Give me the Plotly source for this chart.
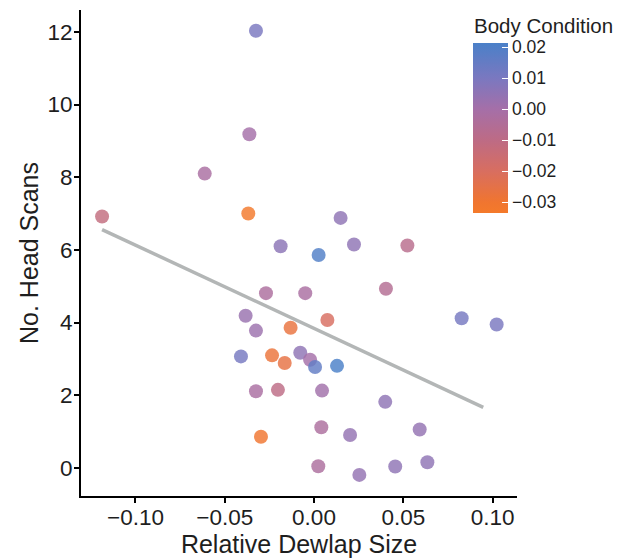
import plotly.graph_objects as go

dewlap = [-0.0325, -0.0362, -0.0612, -0.1187, -0.0368, 0.0149, -0.0187, 0.0224, 0.0523, 0.0026,
          -0.0269, -0.0049, 0.0403, 0.0827, 0.1023, -0.0383, -0.0325, -0.0131, 0.0075, -0.0409,
          -0.0235, -0.0164, -0.0077, -0.0022, 0.0006, 0.0129, -0.0325, -0.0202, 0.0045, 0.0399,
          -0.0297, 0.0041, 0.0202, 0.0592, 0.0024, 0.0254, 0.0455, 0.0635]
scans = [12.03, 9.18, 8.1, 6.92, 7.0, 6.88, 6.1, 6.15, 6.12, 5.86,
         4.81, 4.81, 4.93, 4.12, 3.95, 4.19, 3.78, 3.86, 4.07, 3.07,
         3.10, 2.89, 3.17, 2.98, 2.78, 2.81, 2.11, 2.15, 2.13, 1.82,
         0.86, 1.12, 0.91, 1.06, 0.05, -0.19, 0.04, 0.16]
body_cond = [0.010, 0.000, -0.002, -0.012, -0.033, 0.005, 0.006, 0.005, -0.008, 0.020,
             -0.003, -0.002, -0.006, 0.011, 0.010, 0.003, 0.002, -0.027, -0.020, 0.011,
             -0.028, -0.026, 0.005, 0.000, 0.016, 0.021, -0.002, -0.010, 0.001, 0.005,
             -0.030, -0.003, 0.004, 0.004, -0.003, 0.004, 0.005, 0.005]

trend_x = [-0.1187, 0.0948]
trend_y = [6.56, 1.67]

x_ticks = [-0.10, -0.05, 0.00, 0.05, 0.10]
y_ticks = [0, 2, 4, 6, 8, 10, 12]
cb_ticks = [-0.03, -0.02, -0.01, 0.00, 0.01, 0.02]

cmin, cmax = -0.0335, 0.0213
colorscale = [
    [0.0, "#f47a2a"],
    [0.064, "#f07530"],
    [0.246, "#d86e60"],
    [0.429, "#bd6b85"],
    [0.611, "#a56fa8"],
    [0.794, "#7a78c0"],
    [1.0, "#4a80c8"],
]

font = "Liberation Sans, Arial, sans-serif"
txt = "#1e1e1e"

# page body adds an 8px offset, so figure coords = screen coords - 8
OFF = 8
W, H = 630, 558
L, R, T, B = 81 - OFF, 517 - OFF, 10 - OFF, 496 - OFF
pw, ph = R - L, B - T
cb_left, cb_top, title_y = 473 - OFF, 43 - OFF, 25 - OFF

fig = go.Figure()
fig.add_trace(go.Scatter(
    x=trend_x, y=trend_y, mode="lines",
    line=dict(color="#b3b6b6", width=3.5),
    showlegend=False, hoverinfo="skip"))
fig.add_trace(go.Scatter(
    x=dewlap, y=scans, mode="markers",
    marker=dict(size=14, color=body_cond, colorscale=colorscale, cmin=cmin, cmax=cmax,
                opacity=0.82, line=dict(width=0),
                colorbar=dict(
                    x=(cb_left - L) / pw, xanchor="left",
                    y=(B - cb_top) / ph, yanchor="top",
                    lenmode="pixels", len=170, thickness=35,
                    tickvals=cb_ticks, tickformat=".2f",
                    ticks="inside", ticklen=6, tickcolor="white", tickwidth=1,
                    tickfont=dict(family=font, size=17.5, color=txt),
                    outlinewidth=0, xpad=0, ypad=0)),
    showlegend=False))

fig.add_annotation(
    text="Body Condition", xref="paper", yref="paper",
    x=(cb_left - L) / pw, y=(B - title_y) / ph, xanchor="left", yanchor="middle",
    showarrow=False, borderpad=0, font=dict(family=font, size=20.5, color=txt))

fig.update_layout(
    width=W, height=H,
    margin=dict(l=L, r=W - R, t=T, b=H - B, autoexpand=False),
    plot_bgcolor="white", paper_bgcolor="white",
    font=dict(family=font, color=txt),
    xaxis=dict(range=[-0.1305, 0.1137], tickvals=x_ticks, tickformat=".2f",
               showgrid=False, zeroline=False, showline=True, linecolor="black", linewidth=2,
               ticks="outside", ticklen=5, tickcolor="black", tickwidth=1.5,
               ticklabelstandoff=-5,
               tickfont=dict(size=22.5, color=txt),
               title=dict(text="Relative Dewlap Size", font=dict(size=25, color=txt), standoff=3)),
    yaxis=dict(range=[-0.77, 12.6], tickvals=y_ticks,
               showgrid=False, zeroline=False, showline=True, linecolor="black", linewidth=2,
               ticks="outside", ticklen=5, tickcolor="black", tickwidth=1.5,
               ticklabelstandoff=-3,
               tickfont=dict(size=22.5, color=txt),
               title=dict(text="No. Head Scans", font=dict(size=25, color=txt), standoff=2)),
)

fig.write_html("out.html")
